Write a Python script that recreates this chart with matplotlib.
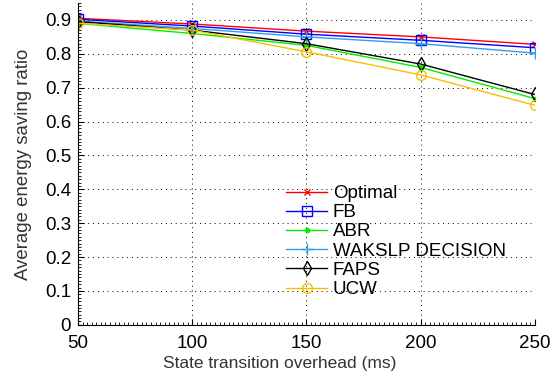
import matplotlib
matplotlib.use("Agg")
import matplotlib.pyplot as plt
from matplotlib.ticker import MultipleLocator

plt.rcParams["font.family"] = ["Liberation Sans", "DejaVu Sans"]

overhead_ms = [50, 100, 150, 200, 250]

optimal = [0.905, 0.888, 0.867, 0.850, 0.828]
fb = [0.902, 0.882, 0.858, 0.840, 0.818]
abr = [0.890, 0.860, 0.825, 0.760, 0.668]
wakslp = [0.897, 0.875, 0.850, 0.830, 0.802]
faps = [0.895, 0.870, 0.830, 0.770, 0.680]
ucw = [0.890, 0.870, 0.806, 0.738, 0.648]

series = [
    ("Optimal", optimal, "#ff0000", "x", 4),
    ("FB", fb, "#0000ff", "s", 7),
    ("ABR", abr, "#00ee00", ".", 6),
    ("WAKSLP DECISION", wakslp, "#2f9fe8", "+", 8),
    ("FAPS", faps, "#000000", "d", 7),
    ("UCW", ucw, "#f5c000", "o", 7),
]

fig = plt.figure(figsize=(5.57, 3.76), dpi=100)
ax = fig.add_axes([0.140, 0.136, 0.820, 0.856])

for name, vals, color, marker, ms in series:
    ax.plot(overhead_ms, vals, color=color, marker=marker, markersize=ms,
            markerfacecolor="none" if marker in "sdo" else color,
            markeredgecolor=color, lw=1, label=name)

ax.set_xlim(50, 250)
ax.set_ylim(0, 0.95)
ax.set_xticks(overhead_ms)
ax.set_yticks([i / 10 for i in range(10)])
ax.set_yticklabels(["0"] + [f"{i / 10:.1f}" for i in range(1, 10)])
ax.xaxis.set_minor_locator(MultipleLocator(2))
ax.yaxis.set_minor_locator(MultipleLocator(0.01))
ax.grid(True, which="major", color="black", linestyle=(0, (1, 4)), lw=0.7)
ax.tick_params(which="major", direction="in", labelsize=13.5, length=4)
ax.tick_params(which="minor", direction="in", length=2, width=0.6)
ax.tick_params(axis="x", which="major", pad=7)
ax.tick_params(axis="y", which="major", pad=5)
for side in ("top", "right"):
    ax.spines[side].set_visible(False)

ax.set_xlabel("State transition overhead (ms)", fontsize=12.5, color="#333333")
ax.xaxis.set_label_coords(0.442, -0.098)
ax.set_ylabel("Average energy saving ratio", fontsize=13.4, color="#333333", labelpad=9)

fig.legend(loc="upper left", bbox_to_anchor=(286 / 557, 1 - 185 / 376),
           frameon=False, fontsize=13.5, handlelength=2.2, labelspacing=0.11,
           borderpad=0, borderaxespad=0, handletextpad=0.3,
           handles=ax.get_lines())

fig.savefig("out.png", dpi=100)
